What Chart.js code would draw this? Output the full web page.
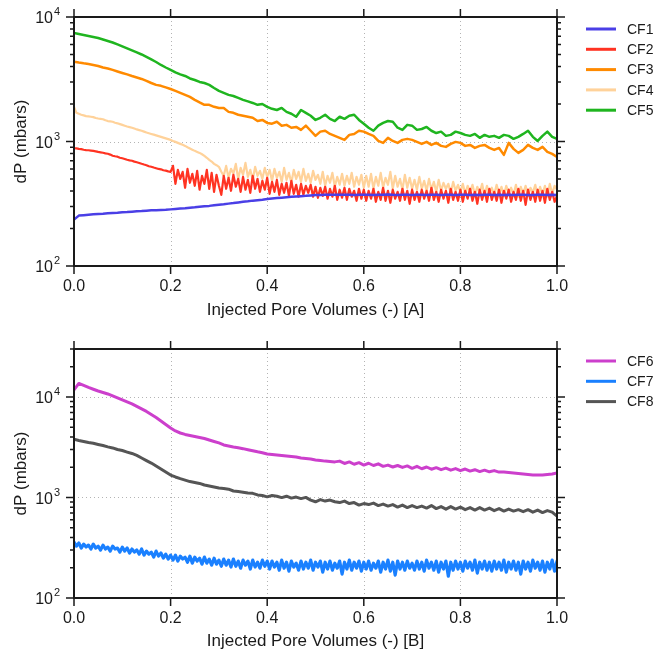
<!DOCTYPE html>
<html lang="en">
<head>
<meta charset="UTF-8">
<title>dP vs injected pore volumes</title>
<script src="https://cdn.jsdelivr.net/npm/chart.js"></script>
<style>
  * { margin: 0; padding: 0; box-sizing: border-box; }
  body { background: #fff; width: 657px; height: 656px; overflow: hidden; }
  canvas { display: block; }
</style>
</head>
<body>
<canvas id="chartA" width="657" height="328"></canvas>
<canvas id="chartB" width="657" height="328"></canvas>
<script>
// injected pore volumes, coarse samples
const pv = [0,0.01,0.02,0.03,0.04,0.05,0.06,0.07,0.08,0.09,
  0.1,0.11,0.12,0.13,0.14,0.15,0.16,0.17,0.18,0.19,
  0.2,0.21,0.22,0.23,0.24,0.25,0.26,0.27,0.28,0.29,
  0.3,0.31,0.32,0.33,0.34,0.35,0.36,0.37,0.38,0.39,
  0.4,0.41,0.42,0.43,0.44,0.45,0.46,0.47,0.48,0.49,
  0.5,0.51,0.52,0.53,0.54,0.55,0.56,0.57,0.58,0.59,
  0.6,0.61,0.62,0.63,0.64,0.65,0.66,0.67,0.68,0.69,
  0.7,0.71,0.72,0.73,0.74,0.75,0.76,0.77,0.78,0.79,
  0.8,0.81,0.82,0.83,0.84,0.85,0.86,0.87,0.88,0.89,
  0.9,0.91,0.92,0.93,0.94,0.95,0.96,0.97,0.98,0.99,1];

// injected pore volumes, fine samples (noisy runs)
const pvFine = [0,0.005,0.01,0.015,0.02,0.025,0.03,0.035,0.04,0.045,
  0.05,0.055,0.06,0.065,0.07,0.075,0.08,0.085,0.09,0.095,
  0.1,0.105,0.11,0.115,0.12,0.125,0.13,0.135,0.14,0.145,
  0.15,0.155,0.16,0.165,0.17,0.175,0.18,0.185,0.19,0.195,
  0.2,0.205,0.21,0.215,0.22,0.225,0.23,0.235,0.24,0.245,
  0.25,0.255,0.26,0.265,0.27,0.275,0.28,0.285,0.29,0.295,
  0.3,0.305,0.31,0.315,0.32,0.325,0.33,0.335,0.34,0.345,
  0.35,0.355,0.36,0.365,0.37,0.375,0.38,0.385,0.39,0.395,
  0.4,0.405,0.41,0.415,0.42,0.425,0.43,0.435,0.44,0.445,
  0.45,0.455,0.46,0.465,0.47,0.475,0.48,0.485,0.49,0.495,
  0.5,0.505,0.51,0.515,0.52,0.525,0.53,0.535,0.54,0.545,
  0.55,0.555,0.56,0.565,0.57,0.575,0.58,0.585,0.59,0.595,
  0.6,0.605,0.61,0.615,0.62,0.625,0.63,0.635,0.64,0.645,
  0.65,0.655,0.66,0.665,0.67,0.675,0.68,0.685,0.69,0.695,
  0.7,0.705,0.71,0.715,0.72,0.725,0.73,0.735,0.74,0.745,
  0.75,0.755,0.76,0.765,0.77,0.775,0.78,0.785,0.79,0.795,
  0.8,0.805,0.81,0.815,0.82,0.825,0.83,0.835,0.84,0.845,
  0.85,0.855,0.86,0.865,0.87,0.875,0.88,0.885,0.89,0.895,
  0.9,0.905,0.91,0.915,0.92,0.925,0.93,0.935,0.94,0.945,
  0.95,0.955,0.96,0.965,0.97,0.975,0.98,0.985,0.99,0.995,1];

// panel A, dP in mbars
const cf1 = [236,254,256,258,260,262,263,265,267,268,
  270,271,273,275,276,278,280,281,282,283,
  285,287,289,291,294,296,299,302,304,307,
  310,313,317,320,324,328,331,335,338,341,
  345,348,351,354,357,360,362,364,366,369,
  371,372,373,373,374,374,373,374,372,373,
  374,373,372,374,373,375,373,372,374,373,
  372,374,373,371,373,374,372,373,374,372,
  373,374,372,373,371,373,374,372,373,372,
  373,372,374,373,371,372,373,374,372,373,372];
// CF2 on pvFine
const cf2 = [883,880,872,868,858,853,851,846,841,834,
  825,819,812,803,797,785,769,761,755,741,
  733,724,713,705,700,689,681,672,662,653,
  645,633,627,618,610,602,598,588,583,575,
  571,637,457,592,501,571,425,603,466,550,
  441,581,410,530,457,592,417,560,394,540,
  441,373,530,417,511,402,540,433,501,394,
  520,410,492,387,530,417,501,394,483,410,
  511,380,474,394,492,373,457,387,466,366,
  483,380,449,360,457,373,441,387,449,360,
  433,353,425,366,433,347,417,360,441,340,
  410,353,425,340,417,360,402,334,417,347,
  410,334,402,347,417,328,394,340,425,334,
  402,322,410,347,394,334,417,340,402,316,
  410,340,394,328,410,347,402,334,425,340,
  394,328,410,347,402,322,417,340,394,334,
  410,328,402,347,417,334,394,316,410,340,
  402,328,417,340,394,334,410,322,402,347,
  410,328,394,340,417,334,402,310,410,340,
  394,328,410,334,402,322,417,340,394,328,366];
const cf3 = [4380,4310,4250,4200,4120,4040,3930,3860,3760,3650,
  3550,3460,3360,3270,3180,3070,2950,2850,2800,2720,
  2640,2550,2460,2370,2280,2160,2060,1970,1970,1900,
  1860,1860,1730,1700,1640,1610,1580,1550,1460,1490,
  1410,1390,1440,1340,1360,1290,1310,1240,1340,1220,
  1110,1200,1220,1150,1110,1070,1030,1130,1150,1220,
  1200,1150,1110,1010,975,1070,1010,975,1030,1050,
  1030,993,957,993,939,975,922,905,957,993,
  975,922,939,888,922,939,888,856,888,781,
  975,872,810,856,939,888,856,905,825,795,753];
// CF4 on pvFine
const cf4 = [1900,1700,1670,1640,1620,1600,1590,1580,1570,1545,
  1530,1520,1510,1480,1460,1450,1440,1415,1400,1380,
  1360,1340,1320,1305,1290,1270,1250,1235,1220,1200,
  1180,1165,1150,1135,1120,1105,1090,1075,1060,1045,
  1030,1010,993,975,957,940,922,900,880,860,
  841,825,810,790,767,740,712,690,661,645,
  626,571,530,637,511,603,550,661,501,614,
  540,673,520,592,492,626,530,581,501,614,
  520,592,483,603,511,571,474,614,492,560,
  466,592,501,571,474,603,483,550,466,581,
  492,540,457,571,441,530,466,560,433,520,
  449,550,441,530,457,560,433,520,449,540,
  425,530,433,550,417,520,441,560,425,511,
  449,571,417,530,433,501,410,540,425,511,
  417,492,410,520,417,483,402,501,410,474,
  394,492,402,466,417,457,387,474,402,449,
  394,457,380,441,394,449,373,433,387,457,
  366,441,387,425,373,449,380,433,366,441,
  387,425,373,449,360,433,380,441,366,425,
  387,449,366,433,373,441,360,457,380,441,410];
const cf5 = [7440,7300,7170,7040,6910,6780,6600,6420,6240,6020,
  5800,5590,5390,5190,5000,4780,4560,4350,4120,3930,
  3760,3590,3460,3360,3210,3120,3010,2950,2850,2690,
  2550,2460,2370,2320,2240,2160,2100,2040,1970,2000,
  1900,1830,1790,1860,1730,1670,1580,1790,1700,1610,
  1490,1550,1640,1520,1460,1580,1520,1610,1640,1490,
  1390,1290,1220,1340,1410,1460,1440,1290,1240,1360,
  1340,1240,1260,1310,1220,1170,1200,1110,1130,1200,
  1170,1130,1110,1150,1070,1130,1090,1110,1070,1130,
  1110,1050,1090,1150,1220,1090,1010,1110,1200,1090,1050];

// panel B, dP in mbars
const cf6 = [11740,13620,13020,12430,11930,11470,11090,10710,10230,9770,
  9340,8920,8520,8050,7600,7180,6700,6250,5770,5320,
  4910,4590,4380,4240,4140,4050,3950,3860,3730,3610,
  3490,3330,3250,3180,3120,3060,2990,2920,2850,2790,
  2710,2680,2650,2620,2590,2560,2530,2470,2440,2410,
  2360,2330,2300,2280,2260,2300,2180,2260,2140,2220,
  2100,2190,2080,2160,2040,2100,2010,2080,1990,2060,
  1950,2040,1930,2010,1910,1980,1890,1960,1870,1940,
  1850,1920,1830,1890,1810,1870,1800,1850,1790,1790,
  1770,1750,1730,1710,1690,1672,1672,1672,1690,1710,1750];
// CF7 on pvFine
const cf7 = [360,328,352,314,344,321,336,307,344,314,
  328,300,336,307,321,293,328,307,314,286,321,
  293,314,280,307,286,300,273,307,267,293,
  273,286,255,293,261,280,249,273,244,267,
  238,267,233,261,244,255,227,261,222,255,
  233,249,217,255,222,244,212,249,217,238,
  207,244,212,238,203,244,207,233,198,238,
  212,233,194,238,203,227,198,238,207,233,
  194,233,203,227,189,238,198,227,185,233,
  203,222,189,233,194,227,198,238,189,227,
  203,233,181,227,194,233,189,222,198,233,
  173,227,194,238,189,227,198,233,185,227,
  194,233,189,222,198,233,181,227,194,238,
  185,227,169,233,194,227,189,233,198,222,
  189,233,194,227,185,238,198,227,189,233,
  181,227,194,233,165,227,189,233,194,227,
  185,233,198,227,189,238,177,227,194,233,
  189,227,185,233,194,227,189,238,181,227,
  194,233,189,227,173,233,194,227,185,238,
  198,227,189,233,181,227,194,238,185,233];
const cf8 = [3790,3690,3610,3520,3460,3370,3290,3190,3110,3000,
  2930,2830,2740,2620,2470,2330,2200,2060,1920,1790,
  1670,1600,1540,1490,1440,1410,1380,1330,1300,1270,
  1240,1230,1210,1160,1145,1130,1110,1100,1060,1045,
  1015,1045,1030,997,1030,986,1009,975,1002,942,
  906,953,921,942,906,890,921,870,890,840,
  870,850,880,831,860,821,850,802,840,793,
  831,793,821,784,831,775,811,766,811,766,
  802,757,793,749,793,749,784,740,775,732,
  766,732,757,723,757,715,749,707,740,715,652];

const namesA = ['CF1', 'CF2', 'CF3', 'CF4', 'CF5'];
const namesB = ['CF6', 'CF7', 'CF8'];
const colorsA = ['#4a3fe6', '#ff3322', '#ff8a00', '#ffd29a', '#1fb51f'];
const colorsB = ['#cc3fcc', '#1a80ff', '#555555'];

const xTicks = [0, 0.2, 0.4, 0.6, 0.8, 1.0];
const decades = [100, 1000, 10000];
const minorMult = [2, 3, 4, 5, 6, 7, 8, 9];

const FONT = "'Liberation Sans', Arial, sans-serif";
const INK = '#1a1a1a';
Chart.defaults.font.family = FONT;
Chart.defaults.color = INK;

// box, outward ticks, dotted grid, 10^n labels and legend
const framePlugin = {
  id: 'frame',
  beforeDatasetsDraw(chart) {
    const { ctx, chartArea: a, scales: { x, y } } = chart;
    ctx.save();
    ctx.strokeStyle = '#b4b4b4';
    ctx.lineWidth = 1;
    ctx.setLineDash([1, 3]);
    ctx.beginPath();
    xTicks.slice(1, -1).forEach(v => {
      const px = Math.round(x.getPixelForValue(v)) + 0.5;
      ctx.moveTo(px, a.top);
      ctx.lineTo(px, a.bottom);
    });
    decades.forEach(v => {
      const py = Math.round(y.getPixelForValue(v)) + 0.5;
      if (py <= a.top + 2 || py >= a.bottom - 2) return;
      ctx.moveTo(a.left, py);
      ctx.lineTo(a.right, py);
    });
    ctx.stroke();
    ctx.restore();
  },
  afterDatasetsDraw(chart) {
    const { ctx, chartArea: a, scales: { x, y } } = chart;
    ctx.save();
    ctx.strokeStyle = INK;
    ctx.lineWidth = 2;
    ctx.strokeRect(a.left, a.top, a.right - a.left, a.bottom - a.top);

    ctx.lineWidth = 1.5;
    ctx.beginPath();
    xTicks.forEach(v => {
      const px = x.getPixelForValue(v);
      ctx.moveTo(px, a.bottom);
      ctx.lineTo(px, a.bottom + 8);
      ctx.moveTo(px, a.top);
      ctx.lineTo(px, a.top - 8);
    });
    decades.forEach(d => {
      [1].concat(minorMult).forEach(m => {
        const v = d * m;
        if (v < y.min || v > y.max) return;
        const py = y.getPixelForValue(v);
        const len = m === 1 ? 8 : 4;
        ctx.moveTo(a.left, py);
        ctx.lineTo(a.left - len, py);
        ctx.moveTo(a.right, py);
        ctx.lineTo(a.right + len, py);
      });
    });
    ctx.stroke();

    // y tick labels as 10 with raised exponent
    ctx.fillStyle = INK;
    decades.forEach(v => {
      const py = y.getPixelForValue(v);
      ctx.font = '16px ' + FONT;
      ctx.textAlign = 'right';
      ctx.textBaseline = 'middle';
      ctx.fillText('10', 53, py + 2);
      ctx.font = '11px ' + FONT;
      ctx.textAlign = 'left';
      ctx.fillText(String(Math.round(Math.log10(v))), 54, py - 5);
    });

    // legend
    ctx.font = '14px ' + FONT;
    ctx.textBaseline = 'middle';
    ctx.textAlign = 'left';
    chart.data.datasets.forEach((ds, i) => {
      const ly = a.top + 12 + i * 20.3;
      ctx.strokeStyle = ds.borderColor;
      ctx.lineWidth = 3;
      ctx.beginPath();
      ctx.moveTo(586, ly);
      ctx.lineTo(616, ly);
      ctx.stroke();
      ctx.fillStyle = INK;
      ctx.fillText(ds.label, 627, ly + 1);
    });
    ctx.restore();
  }
};

function makeChart(id, xsets, series, names, colors, widths, cfg) {
  return new Chart(document.getElementById(id), {
    type: 'line',
    data: {
      datasets: series.map((s, i) => ({
        label: names[i],
        data: xsets[i].map((xv, j) => ({ x: xv, y: s[j] })),
        borderColor: colors[i],
        borderWidth: widths[i],
        borderJoinStyle: 'round',
        borderCapStyle: 'round',
        pointRadius: 0,
        tension: 0,
        fill: false
      }))
    },
    options: {
      responsive: false,
      animation: false,
      devicePixelRatio: 1,
      layout: { padding: { top: cfg.top, right: 100, left: 0, bottom: 0 } },
      plugins: { legend: { display: false }, tooltip: { enabled: false } },
      scales: {
        x: {
          type: 'linear',
          min: 0,
          max: 1,
          grid: { display: false, drawTicks: false },
          border: { display: false },
          ticks: {
            stepSize: 0.2,
            padding: 11,
            font: { size: 16 },
            color: INK,
            callback: v => v.toFixed(1)
          },
          title: {
            display: true,
            text: cfg.xTitle,
            font: { size: 17 },
            color: INK,
            padding: { top: 0, bottom: cfg.titlePad }
          },
          afterFit: s => { s.height = cfg.xh; }
        },
        y: {
          type: 'logarithmic',
          min: 100,
          max: cfg.yMax,
          grid: { display: false, drawTicks: false },
          border: { display: false },
          ticks: { display: false },
          title: {
            display: true,
            text: 'dP (mbars)',
            font: { size: 17 },
            color: INK,
            padding: { top: 11, bottom: 0 }
          },
          afterFit: s => { s.width = 74; }
        }
      }
    },
    plugins: [framePlugin]
  });
}

makeChart('chartA', [pv, pvFine, pv, pvFine, pv], [cf1, cf2, cf3, cf4, cf5],
  namesA, colorsA, [2.5, 2.2, 2.5, 2.2, 2.5],
  { top: 17, xh: 62, titlePad: 7, yMax: 10000, xTitle: 'Injected Pore Volumes (-) [A]' });
makeChart('chartB', [pv, pvFine, pv], [cf6, cf7, cf8],
  namesB, colorsB, [3, 3.2, 3],
  { top: 21, xh: 58, titlePad: 4, yMax: 30000, xTitle: 'Injected Pore Volumes (-) [B]' });
</script>
</body>
</html>
